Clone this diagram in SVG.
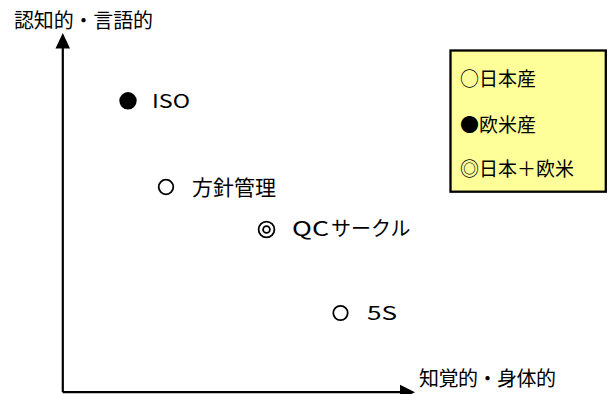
<svg xmlns="http://www.w3.org/2000/svg" width="611" height="394" viewBox="0 0 611 394">
<style>
text{font-family:"Noto Sans CJK JP","Noto Sans CJK SC",sans-serif;fill:#000}
.ax{stroke:#000;stroke-width:2.2;fill:none}
.open{fill:#fff;stroke:#000;stroke-width:1.8}
.fill{fill:#000}
</style>
<rect width="611" height="394" fill="#fff"/>
<g id="axes">
<line class="ax" x1="62.8" y1="392.2" x2="62.8" y2="46"/>
<line class="ax" x1="62.8" y1="392.2" x2="402" y2="392.2"/>
<polygon points="62.8,33 55.5,48.5 70,48.5" fill="#000"/>
<polygon points="415,392.2 400,384.7 400,399.7" fill="#000"/>
<text id="y-label" x="14" y="27.5" font-size="20" textLength="139" lengthAdjust="spacing">認知的・言語的</text>
<text id="x-label" x="419" y="386" font-size="20" textLength="137" lengthAdjust="spacing">知覚的・身体的</text>
</g>
<g id="legend">
<rect x="450.5" y="50.5" width="155.3" height="141.2" fill="#FFFF99" stroke="#000" stroke-width="2.3"/>
<text x="460" y="86" font-size="19">○日本産</text>
<text x="460" y="132" font-size="19">●欧米産</text>
<text x="460" y="176" font-size="19">◎日本＋欧米</text>
</g>
<g id="iso">
<circle class="fill" cx="128" cy="100.8" r="8.7"/>
<text x="152" y="108" font-size="19" textLength="38" lengthAdjust="spacingAndGlyphs">ISO</text>
</g>
<g id="hoshin">
<circle class="open" cx="166" cy="187" r="7.3"/>
<text x="192" y="194.5" font-size="21">方針管理</text>
</g>
<g id="qc">
<circle class="open" cx="266.5" cy="229.5" r="7.9" stroke-width="1.6"/>
<circle class="open" cx="266.5" cy="229.5" r="3.4" stroke-width="1.5"/>
<text x="292" y="236" font-size="20"><tspan textLength="37" lengthAdjust="spacingAndGlyphs">QC</tspan><tspan x="331">サークル</tspan></text>
</g>
<g id="fiveS">
<circle class="open" cx="340.5" cy="313" r="7.2"/>
<text x="367" y="320" font-size="19" textLength="30" lengthAdjust="spacingAndGlyphs">5S</text>
</g>
</svg>
